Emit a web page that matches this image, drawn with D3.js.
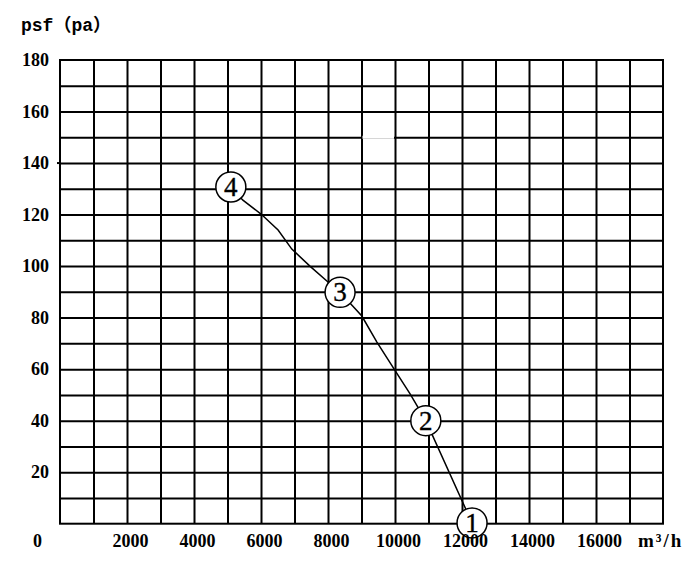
<!DOCTYPE html>
<html>
<head>
<meta charset="utf-8">
<script src="https://cdn.jsdelivr.net/npm/d3@7"></script>
<style>
  body { margin: 0; background: #fff; }
  svg { display: block; }
  .lbl { font-family: "Liberation Serif", "Noto Sans CJK SC", serif; font-weight: bold; font-size: 18px; fill: #000; }
</style>
</head>
<body>
<svg></svg>
<script>
// fan curve: flow (m3/h) vs static pressure (pa)
let curveFlow = [5100, 5460, 6000, 6510, 6920, 7460, 8000, 8360, 9010, 9460, 9970, 10450, 10920, 12300];
let curvePressure = [130.7, 125.6, 120.2, 114.0, 106.6, 100.0, 93.8, 89.8, 80.6, 70.5, 60.1, 50.4, 40.0, 0.3];

let pointFlow = [12300, 10920, 8360, 5100];
let pointPressure = [0.3, 40.0, 89.8, 130.7];
let pointLabels = ["1", "2", "3", "4"];

let xTickLabels = [2000, 4000, 6000, 8000, 10000, 12000, 14000, 16000];
let yTickLabels = [20, 40, 60, 80, 100, 120, 140, 160, 180];

let width = 700;
let height = 561;
let plotLeft = 60, plotRight = 663, plotTop = 60, plotBottom = 523.7;

let xScale = d3.scaleLinear()
                .domain([0, 18000])
                .range([plotLeft, plotRight])

let yScale = d3.scaleLinear()
                .domain([0, 180])
                .range([plotBottom, plotTop])

let svg = d3.select("svg")
            .attr("width", width)
            .attr("height", height)

// grid
let xGrid = d3.axisBottom(xScale)
                .tickValues(d3.range(1000, 18000, 1000))
                .tickSize(-(plotBottom - plotTop))
                .tickSizeOuter(0)
                .tickFormat("")

let yGrid = d3.axisLeft(yScale)
                .tickValues(d3.range(10, 180, 10))
                .tickSize(-(plotRight - plotLeft))
                .tickSizeOuter(0)
                .tickFormat("")

svg.append("g")
    .attr("transform", "translate(0," + plotBottom + ")")
    .call(xGrid)
    .call(g => g.select(".domain").remove())
    .selectAll("line").attr("stroke", "#000").attr("stroke-width", 2)

svg.append("g")
    .attr("transform", "translate(" + plotLeft + ",0)")
    .call(yGrid)
    .call(g => g.select(".domain").remove())
    .selectAll("line").attr("stroke", "#000").attr("stroke-width", 2)

// missing piece of the 150 line in the original
svg.append("rect")
    .attr("x", xScale(9000) + 1)
    .attr("y", yScale(150) - 1.5)
    .attr("width", xScale(10000) - xScale(9000) - 2)
    .attr("height", 3)
    .attr("fill", "#fff")

svg.append("rect")
    .attr("x", plotLeft)
    .attr("y", plotTop)
    .attr("width", plotRight - plotLeft)
    .attr("height", plotBottom - plotTop)
    .attr("fill", "none")
    .attr("stroke", "#000")
    .attr("stroke-width", 2)

svg.append("line")
    .attr("x1", plotLeft - 3).attr("x2", plotLeft)
    .attr("y1", yScale(140)).attr("y2", yScale(140))
    .attr("stroke", "#000").attr("stroke-width", 2)

// curve
let line = d3.line()
                .x(i => xScale(curveFlow[i]))
                .y(i => yScale(curvePressure[i]))

svg.append("path")
    .attr("d", line(d3.range(curveFlow.length)))
    .attr("fill", "none")
    .attr("stroke", "#000")
    .attr("stroke-width", 1.5)

let pts = svg.selectAll(".pt")
    .data(pointLabels)
    .enter()
    .append("g")
    .attr("class", "pt")
    .attr("transform", (d, i) => "translate(" + xScale(pointFlow[i]) + "," + yScale(pointPressure[i]) + ")")

pts.append("circle")
    .attr("r", 15)
    .attr("fill", "#fff")
    .attr("stroke", "#000")
    .attr("stroke-width", 1.5)

pts.append("text")
    .attr("text-anchor", "middle")
    .attr("dy", 9)
    .style("font-family", "'Liberation Serif', serif")
    .style("font-size", "27px")
    .style("stroke", "#000")
    .style("stroke-width", 0.4)
    .text(d => d)

// axis labels
let xAxis = d3.axisBottom(xScale)
                .tickValues(xTickLabels)
                .tickSize(0)
                .tickFormat(d3.format("d"))

let yAxis = d3.axisLeft(yScale)
                .tickValues(yTickLabels)
                .tickSize(0)
                .tickPadding(11)

svg.append("g")
    .attr("transform", "translate(0," + plotBottom + ")")
    .call(xAxis)
    .call(g => g.select(".domain").remove())
    .selectAll("text")
    .attr("class", "lbl")
    .attr("y", 23.3)
    .attr("dy", 0)
    .attr("dx", 3)

svg.append("g")
    .attr("transform", "translate(" + plotLeft + ",0)")
    .call(yAxis)
    .call(g => g.select(".domain").remove())
    .selectAll("text")
    .attr("class", "lbl")

svg.append("text")
    .attr("class", "lbl")
    .attr("x", plotLeft - 22.5)
    .attr("y", plotBottom + 23.3)
    .style("text-anchor", "middle")
    .text("0")

svg.append("text")
    .attr("class", "lbl")
    .attr("x", 638)
    .attr("y", plotBottom + 23.3)
    .style("letter-spacing", "2px")
    .style("font-size", "19px")
    .text("m³/h")

svg.append("text")
    .attr("x", 21)
    .attr("y", 31)
    .style("font-family", "'Liberation Mono', 'Noto Sans CJK SC', monospace")
    .style("font-weight", "bold")
    .style("font-size", "18px")
    .text("psf（pa）")
</script>
</body>
</html>
